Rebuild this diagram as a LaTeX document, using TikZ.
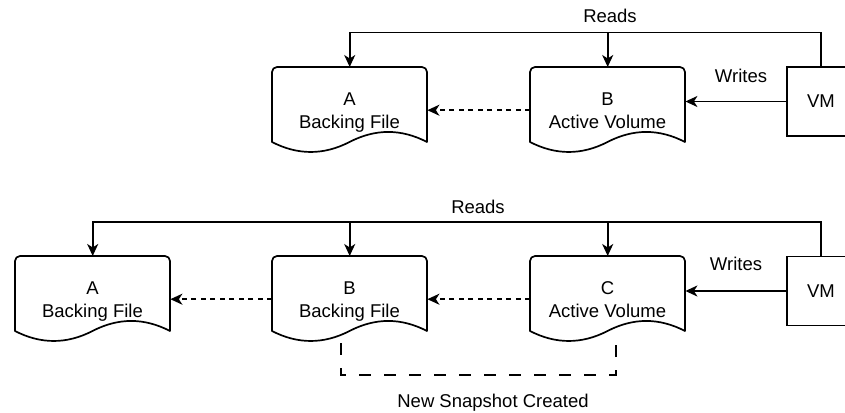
\documentclass[tikz,border=0pt]{standalone}
\usepackage{fontspec}
\setmainfont{Liberation Sans}
\usetikzlibrary{arrows.meta}
\tikzset{
  ln/.style={line width=1.7pt, draw=black},
  tip/.style={-{Stealth[length=12pt,width=11pt,inset=3.5pt]}},
  docnode/.style={rectangle, minimum width=155pt, minimum height=86pt, inner sep=0pt, anchor=north west},
  docline/.style={line width=1.7pt, line join=round},
  lbl/.style={font=\fontsize{18.5}{22}\selectfont, inner sep=0pt, anchor=base},
  vmbox/.style={draw, line width=1.7pt, minimum width=68pt, minimum height=69pt, inner sep=0pt, font=\fontsize{18.5}{22}\selectfont},
  dasharrow/.style={ln, dash pattern=on 5pt off 4.5pt, tip},
  bracket/.style={line width=1.6pt, dash pattern=on 12pt off 13pt},
}
\newcommand\DocShp[5]{%
  \node[docnode] (#1) at (#2,#3) {};
  \draw[docline] (#2,#3+75) [rounded corners=5pt] -- (#2,#3) -- (#2+155,#3) [sharp corners] -- (#2+155,#3+75)
    .. controls (#2+129.17,#3+61.6) and (#2+103.33,#3+61.6) .. (#2+77.5,#3+75)
    .. controls (#2+51.67,#3+88.3) and (#2+25.83,#3+88.3) .. (#2,#3+75) -- cycle;
  \node[lbl] (#1l) at (#2+77.5,#3+38) {#4};
  \node[lbl] (#1c) at (#2+77.5,#3+61) {#5};
}
\begin{document}
\begin{tikzpicture}[x=1pt,y=-1pt]
\useasboundingbox (0,0) rectangle (845,412);
\clip (0,0) rectangle (845,412);
% ---------- top row ----------
\DocShp{tA}{272}{67}{A}{Backing File}
\DocShp{tB}{530}{67}{B}{Active Volume}
\node[vmbox] (tVM) at (821,101.5) {VM};
\coordinate (rdT) at (0,32.5);
\draw[ln,tip] (tVM.north) |- (tA.north |- rdT) -- (tA.north);
\draw[ln,tip] (tB.north |- rdT) -- (tB.north);
\node[lbl] (rdTl) at (610,23) {Reads};
\draw[ln,tip] (tVM.west) -- (tB.east |- tVM.west);
\node[lbl] (wrTl) at (741,82) {Writes};
\draw[dasharrow] (tB.west) -- (tA.east);
% ---------- bottom row ----------
\DocShp{bA}{15}{256}{A}{Backing File}
\DocShp{bB}{272}{256}{B}{Backing File}
\DocShp{bC}{530}{256}{C}{Active Volume}
\node[vmbox] (bVM) at (821,291) {VM};
\coordinate (rdB) at (0,222);
\draw[ln,tip] (bVM.north) |- (bA.north |- rdB) -- (bA.north);
\draw[ln,tip] (bB.north |- rdB) -- (bB.north);
\draw[ln,tip] (bC.north |- rdB) -- (bC.north);
\node[lbl] (rdBl) at (478,213) {Reads};
\draw[ln,tip] (bVM.west) -- (bC.east |- bVM.west);
\node[lbl] (wrBl) at (736,270) {Writes};
\draw[dasharrow] (bC.west) -- (bB.east);
\draw[dasharrow] (bB.west) -- (bA.east);
% ---------- snapshot bracket ----------
\coordinate (bk1) at (341,343);
\coordinate (bk2) at (341,375);
\coordinate (bk3) at (616,375);
\coordinate (bk4) at (616,343);
\draw[bracket] (bk1) -- (bk2) -- (bk3) -- (bk4);
\node[lbl] (snap) at (493,407) {New Snapshot Created};
\end{tikzpicture}
\end{document}
